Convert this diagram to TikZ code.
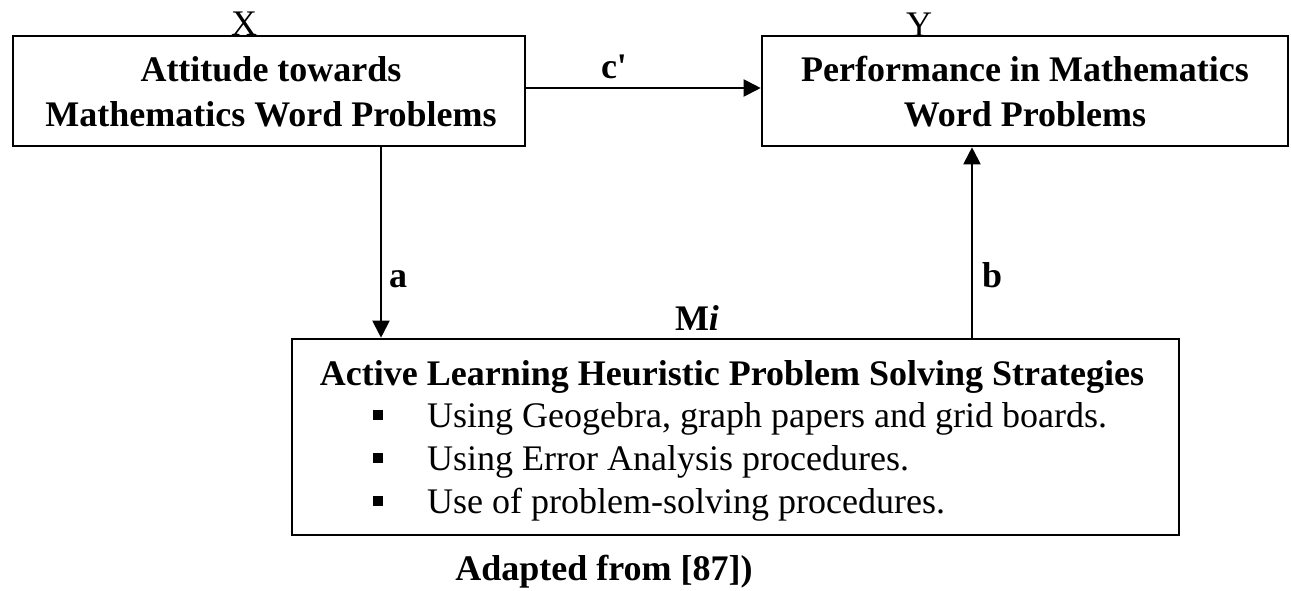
\documentclass[tikz,border=0pt]{standalone}
\usepackage{fontspec}
\setmainfont{Liberation Serif}
\usetikzlibrary{arrows.meta}
\begin{document}
\begin{tikzpicture}[x=1pt,y=-1pt,
  box/.style={draw,line width=2.6pt,inner sep=0pt},
  arr/.style={line width=2pt,-{Triangle[length=17pt,width=17pt]}},
  big/.style={font=\fontsize{36}{45}\selectfont\bfseries,align=center},
  lab/.style={font=\fontsize{36}{40}\selectfont\bfseries,inner sep=0pt},
  item/.style={font=\fontsize{36}{40}\selectfont,anchor=base west,inner sep=0pt},
  var/.style={font=\fontsize{36}{40}\selectfont,anchor=base,inner sep=0pt},
  sq/.style={fill=black,minimum size=10pt,inner sep=0pt}]
\useasboundingbox (0,0) rectangle (1291,590);
% boxes
\node[box,minimum width=512pt,minimum height=110pt] (X) at (269,91) {};
\node[box,minimum width=526pt,minimum height=110pt] (Y) at (1025,91) {};
\node[box,minimum width=887pt,minimum height=196pt] (M) at (735.5,437) {};
% box texts
\node[big] (Xt) at (271,92) {Attitude towards\\Mathematics Word Problems};
\node[big] (Yt) at (1025,92) {Performance in Mathematics\\Word Problems};
\node[lab,anchor=base] (Mt) at (732,385) {Active Learning Heuristic Problem Solving Strategies};
\node[sq] (s1) at (378,415) {};
\node[sq] (s2) at (378,458) {};
\node[sq] (s3) at (378,501) {};
\node[item] (i1) at (427,427) {Using Geogebra, graph papers and grid boards.};
\node[item] (i2) at (427,470) {Using Error Analysis procedures.};
\node[item] (i3) at (427,513) {Use of problem-solving procedures.};
% variable labels
\node[var] (XL) at (244,35) {X};
\node[var] (YL) at (919,36) {Y};
\node[lab,anchor=base] (ML) at (697,330) {M\textit{i}};
% connectors
\coordinate (ax) at (381,0);
\coordinate (bx) at (972,0);
\draw[arr] ([yshift=3pt]X.east) -- ([yshift=3pt]Y.west);
\draw[arr] (X.south -| ax) -- (M.north -| ax);
\draw[arr] (M.north -| bx) -- (Y.south -| bx);
\node[lab,anchor=base] (cL) at (614,78) {c\textquotesingle};
\node[lab,anchor=base west] (aL) at (389,287) {a};
\node[lab,anchor=base west] (bL) at (982,287) {b};
% caption
\node[lab,anchor=base] (cap) at (604,580) {Adapted from [87])};
\end{tikzpicture}
\end{document}
